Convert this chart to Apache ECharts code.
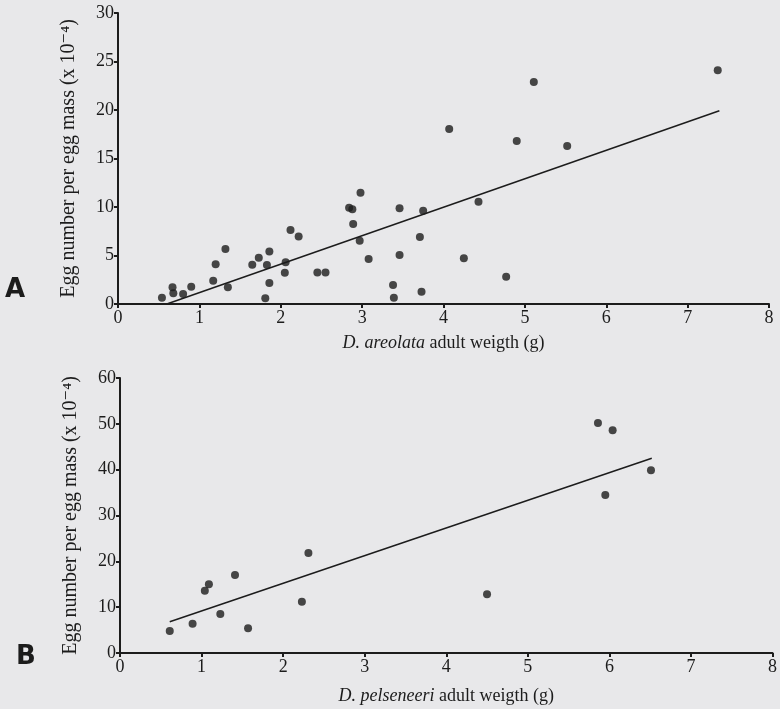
<!DOCTYPE html>
<html>
<head>
<meta charset="utf-8">
<script src="https://cdn.jsdelivr.net/npm/echarts@6/dist/echarts.min.js"></script>
<style>
  html, body { margin: 0; padding: 0; background: #e8e8ea; }
  #chart { width: 780px; height: 709px; }
</style>
</head>
<body>
<div id="chart"></div>
<script>
// panel A - D. areolata
const areolataWeight = [0.54, 0.67, 0.68, 0.80, 0.90, 1.17, 1.20, 1.32, 1.35, 1.65, 1.73, 1.83, 1.86, 1.81, 1.86,
  2.06, 2.05, 2.12, 2.22, 2.45, 2.55, 2.84, 2.88, 2.89, 2.98, 2.97, 3.08, 3.46, 3.75, 3.71, 3.46, 3.38, 3.39,
  3.73, 4.07, 4.43, 4.25, 4.77, 4.90, 5.11, 5.52, 7.37];
const areolataEggs = [0.65, 1.72, 1.1, 1.03, 1.79, 2.4, 4.09, 5.67, 1.72, 4.05, 4.77, 4.02, 5.4, 0.58, 2.16,
  4.3, 3.23, 7.63, 6.97, 3.26, 3.26, 9.93, 9.76, 8.25, 11.48, 6.53, 4.64, 9.86, 9.62, 6.9, 5.05, 1.96, 0.65,
  1.27, 18.04, 10.55, 4.71, 2.82, 16.8, 22.89, 16.29, 24.09];
const areolataFitX = [0.6, 7.39];
const areolataFitY = [0, 19.93];

// panel B - D. pelseneeri
const pelseneeriWeight = [0.61, 0.89, 1.04, 1.09, 1.41, 1.23, 1.57, 2.23, 2.31, 4.50, 5.86, 6.04, 5.95, 6.51];
const pelseneeriEggs = [4.8, 6.4, 13.6, 15.0, 17.0, 8.5, 5.4, 11.2, 21.8, 12.8, 50.2, 48.6, 34.5, 39.9];
const pelseneeriFitX = [0.61, 6.52];
const pelseneeriFitY = [6.8, 42.5];

const xTicks = [0, 1, 2, 3, 4, 5, 6, 7, 8];
const yTicksA = [0, 5, 10, 15, 20, 25, 30];
const yTicksB = [0, 10, 20, 30, 40, 50, 60];

const ink = '#1c1c1c';
const serif = '"Liberation Serif", "DejaVu Serif", serif';
const yName = 'Egg number per egg mass (x 10\u207B\u2074)';

function zip(a, b) { return a.map((v, i) => [v, b[i]]); }

function xAxis(idx, label, min, max) {
    return {
        type: 'value', gridIndex: idx, min: min, max: max, interval: 1,
        name: label, nameLocation: 'middle', nameGap: idx === 0 ? 30 : 34,
        nameTextStyle: {
            color: ink, fontFamily: serif, fontSize: 18,
            rich: { i: { fontStyle: 'italic', fontFamily: serif, fontSize: 18, color: ink } }
        },
        axisLine: { lineStyle: { color: ink, width: 2 } },
        axisTick: { length: 4, lineStyle: { color: ink, width: 2 } },
        axisLabel: { color: ink, fontFamily: serif, fontSize: 18, margin: 5 },
        splitLine: { show: false }
    };
}

function yAxis(idx, ticks) {
    return {
        type: 'value', gridIndex: idx, min: ticks[0], max: ticks[ticks.length - 1],
        interval: ticks[1] - ticks[0],
        name: yName, nameLocation: 'middle', nameGap: 39,
        nameTextStyle: { color: ink, fontFamily: serif, fontSize: 20 },
        axisLine: { show: true, lineStyle: { color: ink, width: 2 } },
        axisTick: { show: true, length: 4, lineStyle: { color: ink, width: 2 } },
        axisLabel: { color: ink, fontFamily: serif, fontSize: 18, margin: 4 },
        splitLine: { show: false }
    };
}

const chart = echarts.init(document.getElementById('chart'));
const option = {
    backgroundColor: '#e8e8ea',
    animation: false,
    grid: [
        { left: 118, right: 11, top: 13, height: 291 },
        { left: 120, right: 3, top: 378, height: 275 }
    ],
    xAxis: [
        xAxis(0, '{i|D. areolata} adult weigth (g)', xTicks[0], xTicks[xTicks.length - 1]),
        xAxis(1, '{i|D. pelseneeri} adult weigth (g)', xTicks[0], xTicks[xTicks.length - 1])
    ],
    yAxis: [yAxis(0, yTicksA), yAxis(1, yTicksB)],
    graphic: [
        { type: 'text', left: 5, top: 277, style: { text: 'A', font: 'bold 26px "DejaVu Sans", sans-serif', fill: ink } },
        { type: 'text', left: 16, top: 644, style: { text: 'B', font: 'bold 26px "DejaVu Sans", sans-serif', fill: ink } }
    ],
    series: [
        {
            type: 'scatter', xAxisIndex: 0, yAxisIndex: 0,
            data: zip(areolataWeight, areolataEggs),
            symbolSize: 8, itemStyle: { color: ink }
        },
        {
            type: 'line', xAxisIndex: 0, yAxisIndex: 0,
            data: zip(areolataFitX, areolataFitY),
            showSymbol: false, lineStyle: { color: ink, width: 1.5 }
        },
        {
            type: 'scatter', xAxisIndex: 1, yAxisIndex: 1,
            data: zip(pelseneeriWeight, pelseneeriEggs),
            symbolSize: 8, itemStyle: { color: ink }
        },
        {
            type: 'line', xAxisIndex: 1, yAxisIndex: 1,
            data: zip(pelseneeriFitX, pelseneeriFitY),
            showSymbol: false, lineStyle: { color: ink, width: 1.5 }
        }
    ]
};
chart.setOption(option);
</script>
</body>
</html>
